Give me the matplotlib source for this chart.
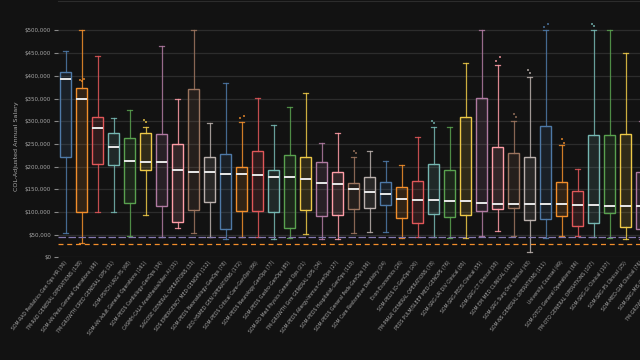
import matplotlib.pyplot as plt
from matplotlib.colors import to_rgba
from matplotlib.ticker import FuncFormatter

# Categories (department, headcount) - the last ones are cut off at the right edge
labels = [
    'SOM-RAD Pediatrics Gen Ops HR (36)', '7M-RAD GENERAL OPERATIONS (138)',
    'SOM-AN Peds General Operations (68)', '7M-GROWTH CRED GENERAL OPS (31)',
    'SOM-PSYCH-URG PS (68)', 'SOM-AN Adult General Operations (161)',
    'SOM-PEDS Cardiology-GenOps (34)', 'CASMH-CALA Anesthesia/Allen AI (31)',
    'SAGOSE GENERAL OPERATIONS (33)', 'SOS EMERGENCY MED-GENOPS (112)',
    'SOM-PEDS Neonatology-GenOps (78)', 'SEO-HSMED GEN OPERATIONS (172)',
    'SOM-PEDS Critical Care-GenOps (86)', 'SOM-PEDS Neurology-GenOps (77)',
    'SOM-PEDS Gastro-GenOps (85)', 'SOM-RO Med Physics General Ops (21)',
    '7M-GROWTH Grm GENERAL OPS (34)', 'SOM-PEDS Allergy-Immun-GenOps (27)',
    'SOM-PEDS Hospitalist-GenOps (118)', 'SOM-PEDS General Peds-GenOps (36)',
    'SOM Care Restorative Dentistry (24)', 'Econ-Economics (26)',
    'SOM-PEDS ID-GenOps (26)', '7M-PM&R GENERAL OPERATIONS (78)',
    'PEDS PULM/SLEEP MED-GENOPS (76)', 'SOM-SRG-UR DIV Clinical (85)',
    'SOM-SRG-PEDS Clinical (55)', 'SOM-SRG-CT Clinical (58)',
    'SOM EM MED CLINICAL (181)', 'SOM-SRG Surg Onc Clinical (43)',
    'SOM-NS GENERAL OPERATIONS (111)', 'University Counsel (49)',
    'SOM-OTCO General Operations (86)', '7M-OTO GENERAL OPERATIONS (107)',
    'SOM-SRG-GI Clinical (107)', 'SOM-SRG-PS Clinical (25)',
    'SOM-MED-GIM Clinical (76)', 'SOM-SRG-MIS Clinical (31)',
    '7M-GROWTH GENERAL OPS (44)',
]

# box statistics (dollars)
whis_hi = [455000, 500000, 444000, 307000, 325000, 288000, 465000, 349000, 500000, 297000,
           385000, 299000, 352000, 291000, 332000, 362000, 251000, 273000, 222000, 235000,
           213000, 204000, 266000, 288000, 288000, 429000, 500000, 423000, 301000, 398000,
           500000, 248000, 194000, 500000, 500000, 450000, 300000]
q3 = [408000, 373000, 309000, 273000, 262000, 273000, 271000, 250000, 371000, 221000,
      228000, 198000, 234000, 193000, 226000, 221000, 210000, 187000, 163000, 176000,
      167000, 154000, 169000, 205000, 193000, 310000, 351000, 243000, 231000, 221000,
      290000, 165000, 146000, 270000, 270000, 272000, 187000]
med = [393000, 348000, 284000, 243000, 212000, 211000, 210000, 193000, 187000, 187000,
       184000, 183000, 181000, 178000, 177000, 173000, 164000, 161000, 150000, 145000,
       139000, 129000, 126000, 126000, 125000, 125000, 119000, 118000, 117000, 117000,
       117000, 117000, 115000, 115000, 114000, 113000, 113000]
q1 = [222000, 99000, 205000, 204000, 119000, 193000, 113000, 78000, 104000, 123000,
      62000, 103000, 102000, 100000, 64000, 104000, 90000, 93000, 106000, 109000,
      115000, 86000, 75000, 95000, 88000, 93000, 101000, 106000, 109000, 82000,
      84000, 91000, 69000, 75000, 97000, 66000, 62000]
whis_lo = [54000, 32000, 100000, 100000, 47000, 93000, 44000, 64000, 53000, 45000,
           40000, 45000, 44000, 40000, 42000, 51000, 40000, 41000, 53000, 56000,
           56000, 42000, 45000, 44000, 42000, 42000, 47000, 58000, 47000, 12000,
           43000, 47000, 47000, 44000, 42000, 40000, 40000]

# individual points that sit outside the whiskers
pt_cat = [1, 1, 1, 5, 5, 11, 11, 18, 18, 23, 23, 27, 27, 28, 28, 29, 29, 30, 30, 31, 31, 33, 33]
pt_val = [391000, 388000, 392000, 303000, 299000, 311000, 308000, 234000, 230000, 300000, 295000,
          441000, 432000, 316000, 309000, 413000, 406000, 515000, 508000, 261000, 252000,
          515000, 509000]

# reference lines
line_hi = 45000
line_lo = 28700

palette = ['#4e79a7', '#f28e2b', '#e15759', '#76b7b2', '#59a14f',
           '#edc948', '#b07aa1', '#ff9da7', '#9c755f', '#bab0ac']
bg = '#121212'
txt = '#a8a8a8'

fig = plt.figure(figsize=(6.4, 3.6), dpi=100, facecolor=bg)
ax = fig.add_axes([58 / 640, 102.7 / 360, 623.7 / 640, 256.3 / 360])
ax.set_facecolor(bg)

n = len(med)
stats = []
for i in range(n):
    stats.append({'med': med[i], 'q1': q1[i], 'q3': q3[i],
                  'whislo': whis_lo[i], 'whishi': whis_hi[i], 'fliers': []})

bp = ax.bxp(stats, positions=range(n), widths=0.7, capwidths=0.33,
            patch_artist=True, showfliers=False, zorder=3)
for i in range(n):
    c = palette[i % 10]
    bp['boxes'][i].set_facecolor(to_rgba(c, 0.14))
    bp['boxes'][i].set_edgecolor(c)
    bp['boxes'][i].set_linewidth(1.0)
    for w in bp['whiskers'][2 * i:2 * i + 2] + bp['caps'][2 * i:2 * i + 2]:
        w.set_color(c)
        w.set_linewidth(0.9)
        w.set_alpha(0.85)
    bp['medians'][i].set_color('#e8e8e8')
    bp['medians'][i].set_linewidth(1.4)

# outlying points, spread a little across the box
offs = [-0.12, 0.0, 0.12]
for k in range(len(pt_cat)):
    ax.scatter(pt_cat[k] + offs[k % 3], pt_val[k], s=2.5, marker='s', linewidths=0,
               color=palette[pt_cat[k] % 10], alpha=0.7, zorder=4)

ax.axhline(line_hi, color='#8579b0', lw=0.9, dashes=(6, 2), zorder=5)
ax.axhline(line_lo, color='#f28e2b', lw=0.9, dashes=(4, 3), zorder=5)

ax.set_xlim(-0.48, 38.5)
ax.set_ylim(0, 565000)
ax.set_yticks(range(0, 500001, 50000))
ax.yaxis.set_major_formatter(FuncFormatter(lambda v, p: '${:,.0f}'.format(v)))
ax.grid(axis='y', color='#2c2c2c', lw=0.9, zorder=0)
ax.set_axisbelow(True)

ax.set_xticks(range(len(labels)))
ax.set_xticklabels(labels, rotation=52, ha='right', va='center',
                   rotation_mode='anchor', fontsize=3.3, color=txt)
ax.tick_params(axis='x', length=0, pad=3)
ax.tick_params(axis='y', length=3, width=0.8, color='#888888', labelsize=4.0,
               labelcolor=txt, pad=2)

for s in ['left', 'right', 'bottom']:
    ax.spines[s].set_visible(False)
ax.spines['top'].set_color('#2c2c2c')

fig.text(17 / 640, 1 - 146.5 / 360, 'COL-Adjusted Annual Salary', rotation=90,
         ha='center', va='center', fontsize=4.6, color=txt)

fig.savefig('out.png', dpi=100, facecolor=bg)
